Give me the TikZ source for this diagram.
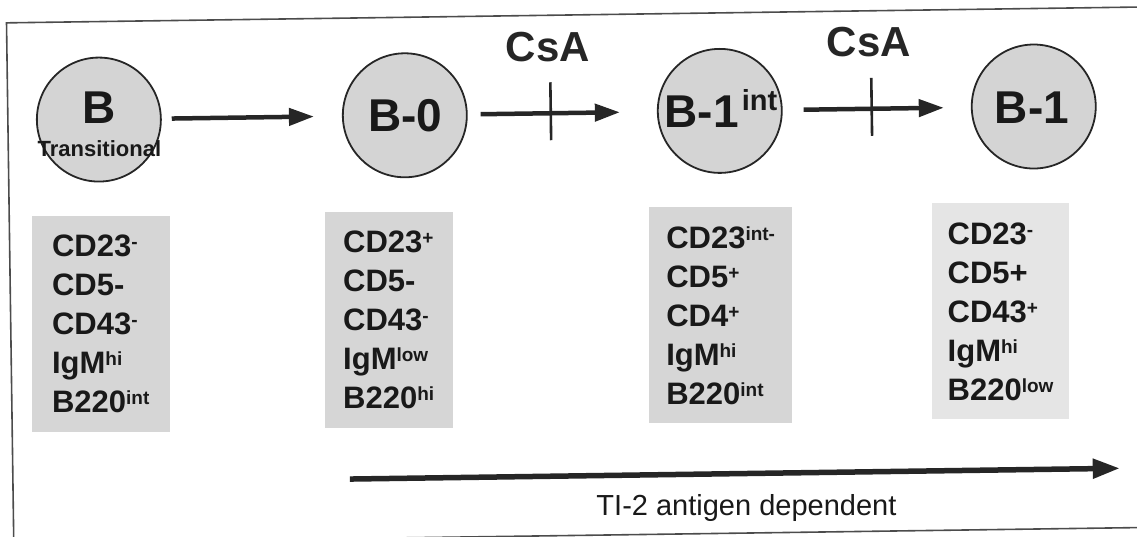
\documentclass[tikz,border=0pt]{standalone}
\usepackage{fontspec}
\setmainfont{Liberation Sans}
\usetikzlibrary{arrows.meta}
\newcommand{\supx}[1]{\raisebox{8pt}{\fontsize{19}{19}\selectfont\bfseries #1}}
\begin{document}
\begin{tikzpicture}[x=1pt,y=-1pt,
  cell/.style={circle, draw=black!85, line width=1.8pt, fill=black!17, minimum size=124pt, inner sep=0pt},
  cellname/.style={font=\fontsize{46}{46}\selectfont\bfseries, text=black!90, inner sep=0pt, anchor=base},
  csalabel/.style={font=\fontsize{42}{42}\selectfont\bfseries, text=black!85, inner sep=0pt},
  flow/.style={draw=black!85, line width=4.5pt, -{Triangle[length=25pt,width=17pt]}},
  block/.style={draw=black!85, line width=2.6pt},
  markers/.style={fill=black!16, minimum width=#1, minimum height=216pt, inner sep=0pt, align=left,
    font=\fontsize{31}{39}\selectfont\bfseries, text=black!90},
  frameline/.style={draw=black!70, line width=1.6pt}
]
\clip (0,0) rectangle (1137,537);
\begin{scope}[rotate around={0.8:(570,270)}]
  % frame
  \draw[frameline] (10,560) -- (10,15) -- (1200,15);
  \draw[frameline] (10,535.5) -- (1200,535.5);

  % cells
  \node (c0) [cell] at (101,113) {};
  \node (c0name) [cellname] at (101,116.5) {B};
  \node (c0sub) [cellname, font=\fontsize{22}{22}\selectfont\bfseries] at (101,150.4) {Transitional};
  \node (c1) [cell] at (407,113) {};
  \node (c1name) [cellname] at (407,129.5) {B-0};
  \node (c2) [cell] at (722,113) {};
  \node (c2name) [cellname] at (723,129.5) {B-1\kern3pt\raisebox{17pt}{\fontsize{29}{29}\selectfont\bfseries int}};
  \node (c3) [cell] at (1036,113) {};
  \node (c3name) [cellname] at (1034,129.5) {B-1};

  % arrows between cells
  \draw[flow, shorten <=10pt, shorten >=28pt] (c0) -- (c1);
  \draw[flow, shorten <=13pt, shorten >=37pt] (c1) -- (c2);
  \draw[flow, shorten <=21pt, shorten >=27pt] (c2) -- (c3);

  % CsA blocks
  \coordinate (b1t) at (553,82);
  \coordinate (b1b) at (553,140);
  \draw[block] (b1t) -- (b1b);
  \node (csa1) [csalabel] at (551,47) {CsA};
  \coordinate (b2t) at (874,82);
  \coordinate (b2b) at (874,140);
  \draw[block] (b2t) -- (b2b);
  \node (csa2) [csalabel] at (872,46) {CsA};

  % marker boxes
  \node (m0) [markers=138pt] at (100,317.5)
    {CD23\supx{-}\\CD5-\\CD43\supx{-}\\IgM\supx{hi}\\B220\supx{int}};
  \node (m1) [markers=128pt] at (388,317.5)
    {CD23\supx{+}\\CD5-\\CD43\supx{-}\\IgM\supx{low}\\B220\supx{hi}};
  \node (m2) [markers=143pt] at (720,317.5)
    {CD23\supx{int-}\\CD5\supx{+}\\CD4\supx{+}\\IgM\supx{hi}\\B220\supx{int}};
  \node (m3) [markers=137pt, fill=black!10] at (1000,317.5)
    {CD23\supx{-}\\CD5+\\CD43\supx{+}\\IgM\supx{hi}\\B220\supx{low}};

  % TI-2 arrow
  \coordinate (t0) at (347,476);
  \coordinate (t1) at (1117,476);
  \draw[flow, line width=5.5pt, -{Triangle[length=27pt,width=19pt]}] (t0) -- (t1);
  \node (ti2) [font=\fontsize{29}{29}\selectfont, text=black!90, inner sep=0pt, anchor=base] at (743,518)
    {TI-2 antigen dependent};
\end{scope}
\end{tikzpicture}
\end{document}
